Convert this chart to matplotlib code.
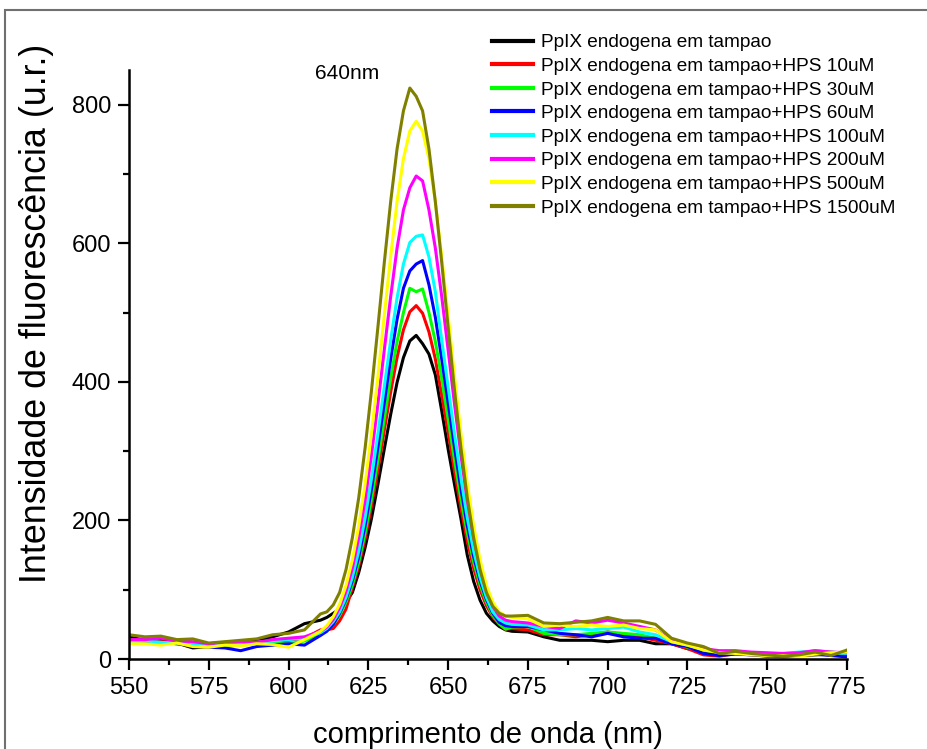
import matplotlib
matplotlib.use("Agg")
import matplotlib.pyplot as plt
from matplotlib.patches import Rectangle
from matplotlib.ticker import MultipleLocator

plt.rcParams["font.family"] = ["Liberation Sans", "DejaVu Sans"]

# wavelength grid (nm): coarse on the baseline, finer across the peak
wavelength = ([550, 555, 560, 565, 570, 575, 580, 585, 590, 595, 600, 605]
              + list(range(610, 671, 2))
              + [675, 680, 685, 690, 695, 700, 705, 710, 715, 720, 725,
                 730, 735, 740, 745, 750, 755, 760, 765, 770, 775])

# fluorescence intensity (u.r.)
tampao = [32, 27, 27, 23, 16, 18, 19, 23, 27, 32, 39, 51,
          56, 60, 66, 72, 82, 96, 125, 161, 203, 252,
          303, 353, 399, 435, 459, 467, 455, 440, 410, 358,
          303, 252, 203, 150, 112, 85, 66, 55, 47, 42, 40,
          39, 32, 27, 27, 27, 25, 27, 27, 22, 22, 15,
          10, 8, 9, 7, 8, 6, 5, 6, 7, 5]
hps_10 = [28, 26, 25, 24, 22, 20, 19, 22, 24, 26, 27, 30,
          42, 42, 44, 55, 72, 103, 134, 174, 221, 273,
          330, 385, 435, 475, 501, 510, 499, 472, 433, 381,
          328, 271, 218, 170, 131, 100, 77, 61, 50, 43, 44,
          42, 35, 35, 32, 35, 39, 35, 32, 27, 22, 15,
          6, 4, 8, 6, 5, 3, 5, 7, 6, 4]
hps_30 = [27, 25, 24, 22, 21, 19, 18, 20, 22, 24, 22, 26,
          36, 42, 50, 63, 82, 107, 140, 182, 231, 287,
          346, 405, 458, 500, 535, 530, 534, 500, 458, 405,
          346, 287, 231, 182, 140, 107, 82, 63, 51, 43, 46,
          47, 37, 35, 35, 37, 39, 37, 35, 30, 25, 17,
          12, 10, 9, 8, 6, 7, 9, 12, 10, 8]
hps_60 = [27, 25, 24, 22, 20, 17, 16, 12, 18, 20, 22, 20,
          34, 40, 50, 66, 86, 113, 148, 193, 246, 306,
          370, 433, 490, 535, 560, 570, 575, 540, 493, 433,
          370, 306, 246, 193, 148, 113, 86, 66, 53, 48, 47,
          47, 42, 37, 35, 32, 37, 32, 30, 30, 22, 18,
          8, 5, 7, 6, 4, 5, 6, 7, 5, 3]
hps_100 = [25, 26, 24, 23, 22, 20, 22, 21, 24, 26, 28, 30,
           38, 44, 54, 68, 89, 118, 156, 204, 261, 325,
           393, 460, 521, 570, 601, 610, 612, 580, 530, 460,
           393, 325, 261, 204, 156, 118, 89, 68, 57, 52, 50,
           49, 42, 42, 44, 42, 44, 46, 39, 35, 25, 20,
           14, 11, 10, 9, 7, 8, 10, 11, 9, 8]
hps_200 = [28, 28, 30, 26, 25, 22, 24, 25, 24, 28, 30, 32,
           40, 46, 57, 74, 98, 131, 175, 229, 295, 368,
           446, 523, 593, 648, 680, 697, 690, 648, 593, 523,
           446, 368, 295, 229, 175, 131, 98, 76, 62, 56, 54,
           52, 47, 44, 55, 52, 56, 52, 47, 42, 27, 22,
           15, 12, 12, 10, 9, 8, 9, 12, 10, 9]
hps_500 = [22, 22, 20, 23, 18, 17, 20, 19, 22, 21, 17, 28,
           40, 48, 61, 79, 106, 143, 192, 253, 326, 408,
           496, 581, 660, 722, 762, 776, 762, 722, 660, 581,
           496, 408, 326, 253, 192, 143, 106, 82, 68, 62, 60,
           58, 47, 49, 47, 49, 47, 49, 44, 42, 25, 20,
           13, 9, 8, 6, 5, 5, 4, 7, 9, 10]
hps_1500 = [35, 32, 33, 28, 29, 23, 25, 27, 29, 35, 37, 42,
            65, 68, 78, 96, 129, 175, 233, 305, 388, 479,
            572, 660, 736, 791, 824, 812, 791, 736, 660, 572,
            479, 388, 305, 233, 175, 129, 96, 76, 66, 62, 62,
            63, 52, 51, 53, 55, 60, 55, 55, 50, 30, 23,
            18, 8, 11, 8, 6, 4, 6, 10, 5, 13]

series = [tampao, hps_10, hps_30, hps_60, hps_100, hps_200, hps_500, hps_1500]
labels = ["PpIX endogena em tampao",
          "PpIX endogena em tampao+HPS 10uM",
          "PpIX endogena em tampao+HPS 30uM",
          "PpIX endogena em tampao+HPS 60uM",
          "PpIX endogena em tampao+HPS 100uM",
          "PpIX endogena em tampao+HPS 200uM",
          "PpIX endogena em tampao+HPS 500uM",
          "PpIX endogena em tampao+HPS 1500uM"]
colors = ["#000000", "#FF0000", "#00FF00", "#0000FF",
          "#00FFFF", "#FF00FF", "#FFFF00", "#808000"]

fig = plt.figure(figsize=(9.27, 7.49), dpi=100)
ax = fig.add_axes([129/927, 1-659/749, 718/927, 589/749])

for y, lab, c in zip(series, labels, colors):
    ax.plot(wavelength, y, color=c, lw=2.2, label=lab)

ax.set_xlim(550, 775)
ax.set_ylim(0, 850)
ax.xaxis.set_major_locator(MultipleLocator(25))
ax.xaxis.set_minor_locator(MultipleLocator(12.5))
ax.yaxis.set_major_locator(MultipleLocator(200))
ax.yaxis.set_minor_locator(MultipleLocator(100))

for side in ["top", "right"]:
    ax.spines[side].set_visible(False)
for side in ["left", "bottom"]:
    ax.spines[side].set_linewidth(1.8)

ax.tick_params(which="major", direction="out", length=8, width=1.6, labelsize=17, pad=5)
ax.tick_params(which="minor", direction="out", length=4.5, width=1.6)

ax.set_xlabel("comprimento de onda (nm)", fontsize=21, labelpad=16)
ax.set_ylabel("Intensidade de fluorescência (u.r.)", fontsize=25.8)
# label in the original sits higher than the axis centre
ax.yaxis.set_label_coords(-0.105, 0.586)

ax.text(550 + (346.7 - 129) / 718 * 225, (659 - 73) / 589 * 850, "640nm",
        fontsize=15, ha="center", va="center")

leg = fig.legend(loc="upper left", bbox_to_anchor=(492/927, 1-34/749),
                 bbox_transform=fig.transFigure, frameon=False, fontsize=13.7,
                 handlelength=2.15, handletextpad=0.4, labelspacing=0.33,
                 borderpad=0, borderaxespad=0)
for h in leg.get_lines():
    h.set_linewidth(3)

# grey page frame of the original export
fig.patches.append(Rectangle((5/927, -0.1), 1.2, 1.1 - 10/749, transform=fig.transFigure,
                             fill=False, edgecolor="#707070", lw=1.5, clip_on=False))

fig.savefig("out.png", dpi=100)
